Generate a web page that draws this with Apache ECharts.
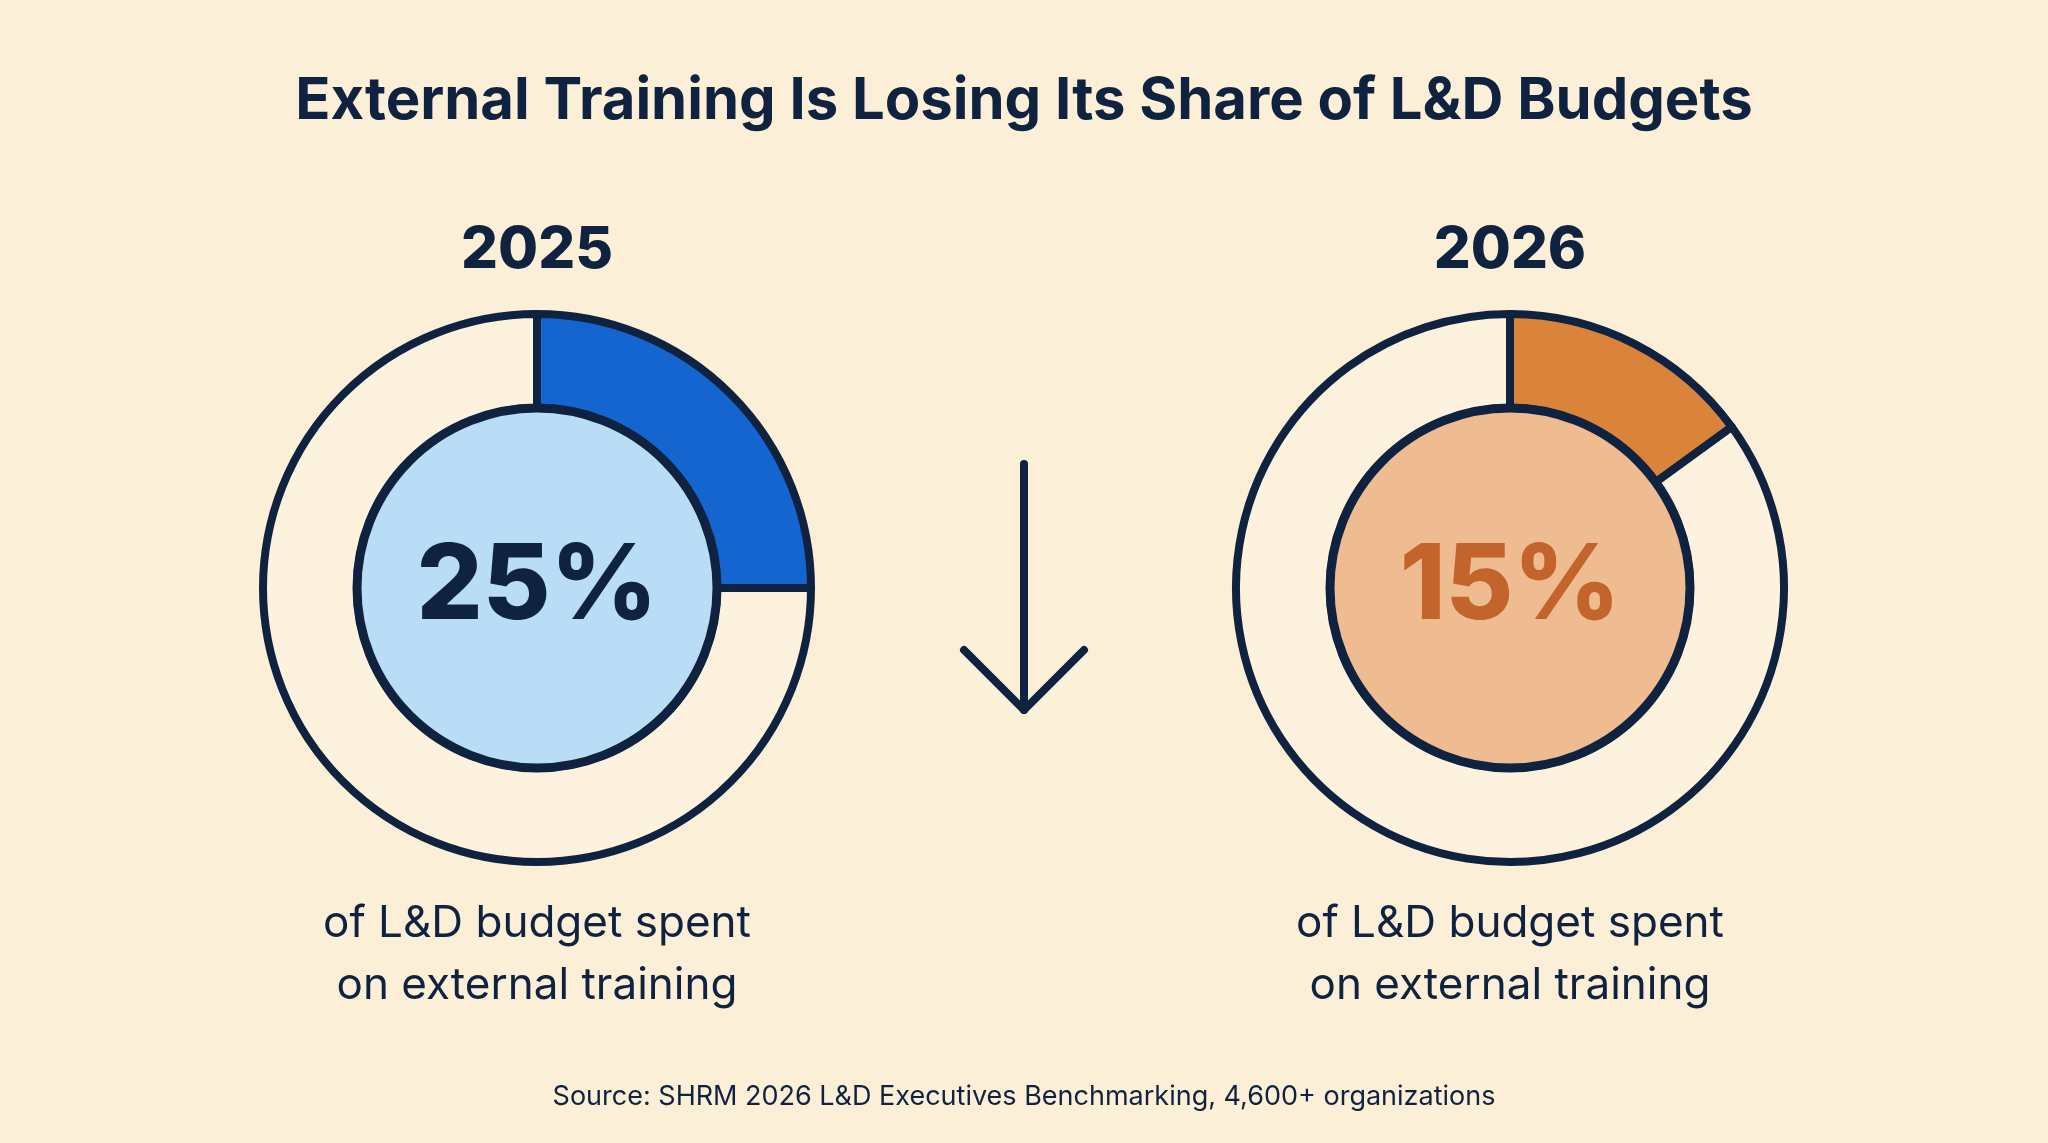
<!DOCTYPE html>
<html><head><meta charset="utf-8">
<script src="https://cdn.jsdelivr.net/npm/echarts@6/dist/echarts.min.js"></script>
<style>html,body{margin:0;padding:0;background:#fcefd7;}#c{width:2048px;height:1143px;}</style>
</head><body><div id="c"></div>
<script>
const YEARS = ['2025', '2026'];
const SHARE = [25, 15];
const CAPTION = 'of L&D budget spent\non external training';
const TITLE = 'External Training Is Losing Its Share of L&D Budgets';
const SOURCE = 'Source: SHRM 2026 L&D Executives Benchmarking, 4,600+ organizations';

const NAVY = '#0f2340';
const SEG = ['#1565d0', '#d9843a'];
const CORE = ['#b9dcf7', '#efbb90'];
const PCT = [NAVY, '#c2642b'];
const CX = [537, 1510];
const CY = 588;

const chart = echarts.init(document.getElementById('c'));
const series = [];
const graphic = [];
YEARS.forEach((y, i) => {
  series.push({
    type: 'pie', center: [CX[i], CY], radius: [180, 274], startAngle: 90, clockwise: true,
    silent: true, label: {show: false}, labelLine: {show: false},
    data: [
      {value: SHARE[i], itemStyle: {color: SEG[i]}},
      {value: 100 - SHARE[i], itemStyle: {color: '#fdf2de'}}
    ],
    itemStyle: {borderColor: NAVY, borderWidth: 8}
  });
  series.push({
    type: 'pie', center: [CX[i], CY], radius: [0, 180], silent: true,
    label: {show: true, position: 'center', formatter: SHARE[i] + '%',
      fontFamily: 'Inter', fontWeight: 800, fontSize: 104, letterSpacing: -4, color: PCT[i]},
    labelLine: {show: false},
    data: [{value: 1, itemStyle: {color: CORE[i], borderColor: NAVY, borderWidth: 9}}]
  });
  graphic.push({type: 'text', x: CX[i], y: 222, style: {text: y,
    font: '800 58px Inter', fill: NAVY, align: 'center'}});
  graphic.push({type: 'text', x: CX[i], y: 893, style: {text: CAPTION,
    font: '44px Inter', lineHeight: 62, fill: NAVY, align: 'center'}});
});
graphic.push({type: 'polyline', shape: {points: [[1024, 464], [1024, 710]]},
  style: {stroke: NAVY, lineWidth: 8, lineCap: 'round'}});
graphic.push({type: 'polyline', shape: {points: [[964, 650], [1024, 710], [1084, 650]]},
  style: {stroke: NAVY, fill: null, lineWidth: 8, lineCap: 'round', lineJoin: 'round'}});

chart.setOption({
  backgroundColor: '#fcefd7',
  animation: false,
  title: [
    {text: TITLE, left: 'center', top: 68, textStyle: {fontFamily: 'Inter', fontWeight: 700, fontSize: 58, color: NAVY}},
    {text: SOURCE, left: 'center', top: 1078, textStyle: {fontFamily: 'Inter', fontWeight: 400, fontSize: 27, color: NAVY}}
  ],
  series: series,
  graphic: graphic
});
</script></body></html>
